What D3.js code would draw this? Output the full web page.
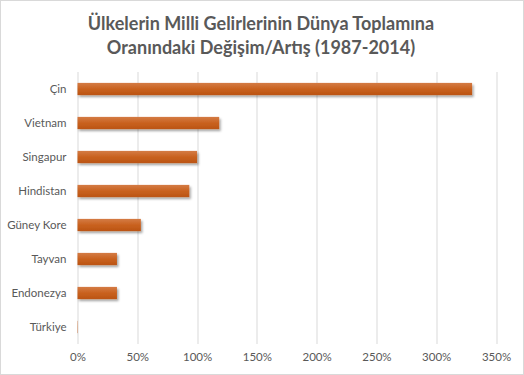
<!DOCTYPE html>
<html>
<head>
<meta charset="utf-8">
<script src="https://d3js.org/d3.v7.min.js"></script>
<style>
  body { margin: 0; background: #fff; }
  svg { display: block; font-family: Lato, "Open Sans", sans-serif; }
</style>
</head>
<body>
<div id="chart"></div>
<script>
// data
var countries = ["Çin", "Vietnam", "Singapur", "Hindistan", "Güney Kore", "Tayvan", "Endonezya", "Türkiye"];
var values = [3.30, 1.185, 1.00, 0.935, 0.53, 0.33, 0.33, 0.003];
var ticks = [0, 0.5, 1, 1.5, 2, 2.5, 3, 3.5];
var titleLines = ["Ülkelerin Milli Gelirlerinin Dünya Toplamına", "Oranındaki Değişim/Artış (1987-2014)"];

var W = 524, H = 375;
var margin = {top: 72, right: 28, bottom: 31, left: 77.5},
    width = W - margin.left - margin.right,
    height = H - margin.top - margin.bottom;

var root = d3.select("#chart")
    .append("svg")
    .attr("width", W)
    .attr("height", H);

// outer border
root.append("rect")
    .attr("x", 0.5).attr("y", 0.5)
    .attr("width", W - 1).attr("height", H - 1)
    .attr("fill", "#fff")
    .attr("stroke", "#d9d9d9");

var defs = root.append("defs");
var grad = defs.append("linearGradient")
    .attr("id", "barGrad")
    .attr("x1", 0).attr("y1", 0).attr("x2", 0).attr("y2", 1);
grad.append("stop").attr("offset", "0%").attr("stop-color", "#d47b45");
grad.append("stop").attr("offset", "50%").attr("stop-color", "#c9621f");
grad.append("stop").attr("offset", "100%").attr("stop-color", "#bb5414");

var shadow = defs.append("filter")
    .attr("id", "shadow")
    .attr("x", "-5%").attr("y", "-30%")
    .attr("width", "115%").attr("height", "190%");
shadow.append("feDropShadow")
    .attr("dx", 1.5).attr("dy", 2)
    .attr("stdDeviation", 1.3)
    .attr("flood-color", "#000")
    .attr("flood-opacity", 0.35);

// title
root.append("g")
    .selectAll("text")
    .data(titleLines)
    .enter()
    .append("text")
    .attr("x", 261)
    .attr("y", function (d, i) { return 30 + i * 23.5; })
    .attr("text-anchor", "middle")
    .attr("font-size", 18)
    .attr("font-weight", "bold")
    .attr("fill", "#595959")
    .text(function (d) { return d; });

var svg = root.append("g")
    .attr("transform", "translate(" + margin.left + "," + margin.top + ")");

var x = d3.scaleLinear()
    .domain([0, 3.5])
    .range([0, width]);

var y = d3.scaleBand()
    .domain(countries)
    .range([0, height])
    .paddingInner(0.64)
    .paddingOuter(0.32);

// vertical gridlines
svg.append("g")
    .selectAll("line")
    .data(ticks)
    .enter()
    .append("line")
    .attr("x1", function (d) { return Math.round(x(d)) + 0.5; })
    .attr("x2", function (d) { return Math.round(x(d)) + 0.5; })
    .attr("y1", 0)
    .attr("y2", height)
    .attr("stroke", "#d9d9d9")
    .attr("stroke-width", 1);

// X axis labels
var xAxis = svg.append("g")
    .attr("transform", "translate(0," + height + ")")
    .call(d3.axisBottom(x).tickValues(ticks).tickSize(0).tickPadding(9)
        .tickFormat(d3.format(".0%")));
xAxis.select(".domain").remove();
xAxis.selectAll("text")
    .attr("font-family", "Lato, 'Open Sans', sans-serif")
    .attr("font-size", 11.5)
    .attr("fill", "#595959");

// Y axis labels
var yAxis = svg.append("g")
    .call(d3.axisLeft(y).tickSize(0).tickPadding(11));
yAxis.select(".domain").remove();
yAxis.selectAll("text")
    .attr("font-family", "Lato, 'Open Sans', sans-serif")
    .attr("font-size", 11.5)
    .attr("fill", "#595959");

// bars
svg.append("g")
    .selectAll("rect")
    .data(countries)
    .enter()
    .append("rect")
    .attr("x", x(0))
    .attr("y", function (d) { return y(d); })
    .attr("width", function (d, i) { return x(values[i]) - x(0); })
    .attr("height", y.bandwidth())
    .attr("fill", "url(#barGrad)")
    .attr("filter", "url(#shadow)");
</script>
</body>
</html>
